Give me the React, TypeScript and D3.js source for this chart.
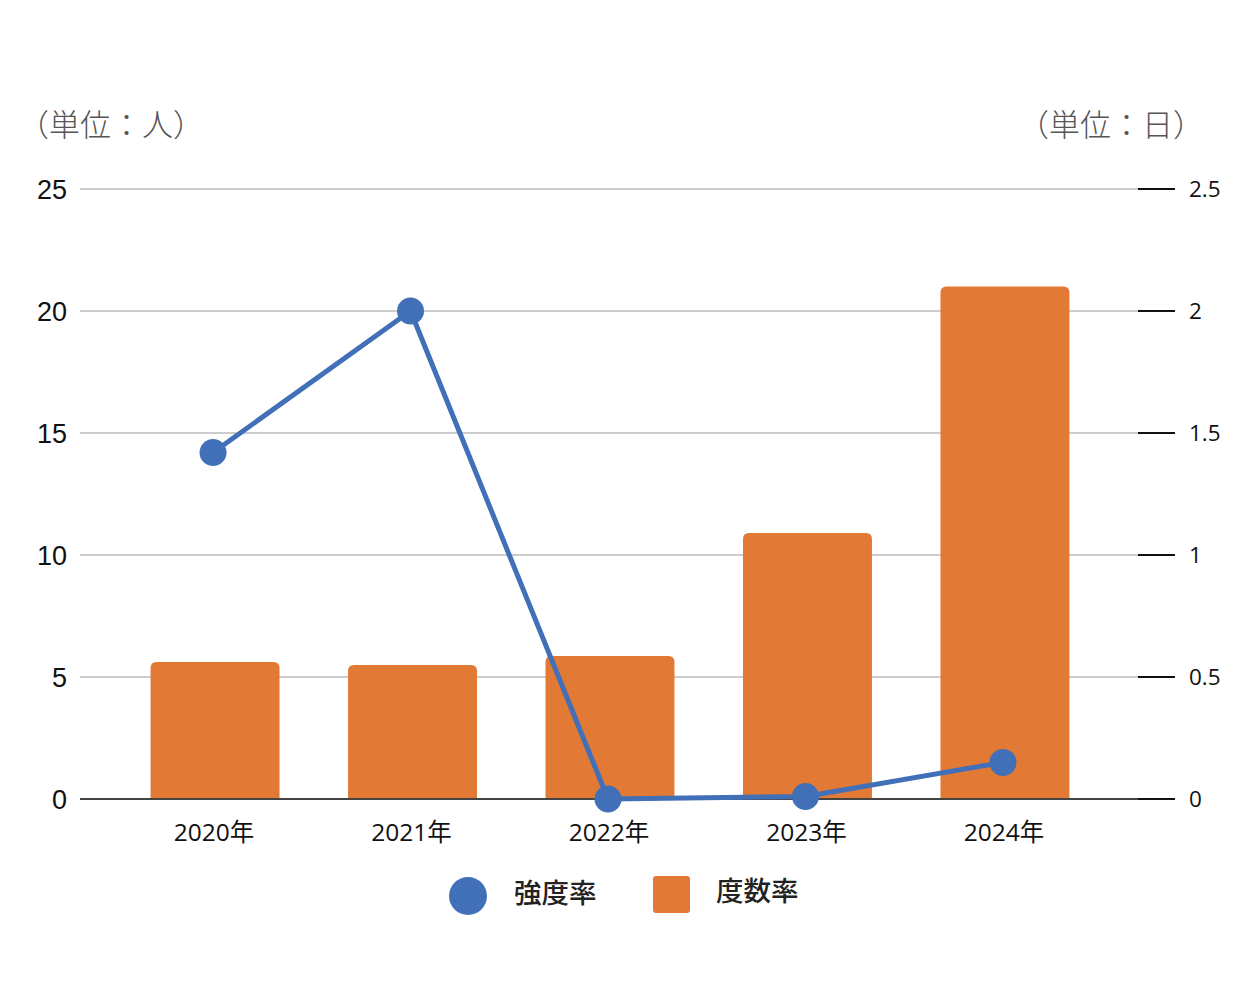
import React from "react";
import * as d3 from "d3";

const categories = ["2020年", "2021年", "2022年", "2023年", "2024年"];
const frequencyRate = [5.61, 5.49, 5.86, 10.9, 21.0]; // 度数率 (bars, left axis)
const severityRate = [1.42, 2.0, 0.0, 0.01, 0.15]; // 強度率 (line, right axis)
const leftTicks = [0, 5, 10, 15, 20, 25];
const rightTicks = [0, 0.5, 1, 1.5, 2, 2.5];
const leftUnit = "（単位：人）";
const rightUnit = "（単位：日）";
const legendLine = "強度率";
const legendBar = "度数率";

const W = 1259;
const H = 997;
const plotLeft = 80;
const gridRight = 1138;
const tickRight = 1175;
const yTop = 189;
const yBottom = 799;

const BLUE = "#4270b8";
const ORANGE = "#e27935";

export default function App() {
  const x = d3
    .scaleBand<string>()
    .domain(categories)
    .range([117, 1103])
    .paddingInner(0.347)
    .paddingOuter(0.17);
  const yL = d3.scaleLinear().domain([0, 25]).range([yBottom, yTop]);
  const yR = d3.scaleLinear().domain([0, 2.5]).range([yBottom, yTop]);
  const bw = x.bandwidth();
  const cx = (c: string) => (x(c) as number) + bw / 2;

  const line = d3
    .line<number>()
    .x((_, i) => cx(categories[i]) - 2)
    .y((d) => yR(d));

  const barPath = (x0: number, y0: number, w: number, h: number, r: number) => {
    const rr = Math.min(r, h);
    return `M${x0},${y0 + h}V${y0 + rr}Q${x0},${y0} ${x0 + rr},${y0}H${x0 + w - rr}Q${x0 + w},${y0} ${x0 + w},${y0 + rr}V${y0 + h}Z`;
  };

  return (
    <svg width={W} height={H} style={{ display: "block", position: "absolute", left: 0, top: 0 }}>
      <rect width={W} height={H} fill="#fff" />
      {/* unit labels */}
      <text x={18} y={136} fontSize={31} fontWeight={300} fill="#555" fontFamily="'Noto Sans CJK JP', sans-serif">
        {leftUnit}
      </text>
      <text x={1018} y={136} fontSize={31} fontWeight={300} fill="#555" fontFamily="'Noto Sans CJK JP', sans-serif">
        {rightUnit}
      </text>

      {/* gridlines */}
      {leftTicks.map((t) =>
        t === 0 ? null : (
          <line key={"g" + t} x1={plotLeft} x2={gridRight} y1={yL(t)} y2={yL(t)} stroke="#cccccc" strokeWidth={2} />
        )
      )}
      {/* right ticks */}
      {rightTicks.map((t) => (
        <line key={"rt" + t} x1={gridRight} x2={tickRight} y1={yR(t)} y2={yR(t)} stroke="#111" strokeWidth={2} />
      ))}
      {/* left labels */}
      {leftTicks.map((t) => (
        <text
          key={"ll" + t}
          x={67}
          y={yL(t)}
          dy="0.36em"
          textAnchor="end"
          fontSize={27}
          fill="#111"
          fontFamily="'Liberation Sans', Arial, sans-serif"
        >
          {t}
        </text>
      ))}
      {/* right labels */}
      {rightTicks.map((t) => (
        <text
          key={"rl" + t}
          x={1189}
          y={yR(t)}
          dy="0.36em"
          fontSize={22.5}
          fill="#111"
          fontFamily="'Open Sans', 'Noto Sans', sans-serif"
        >
          {t}
        </text>
      ))}

      {/* bars */}
      {frequencyRate.map((v, i) => {
        const c = categories[i];
        const y0 = yL(v);
        return <path key={"b" + c} d={barPath(x(c) as number, y0, bw, yBottom - y0, 6)} fill={ORANGE} />;
      })}

      {/* baseline */}
      <line x1={plotLeft} x2={gridRight} y1={yBottom} y2={yBottom} stroke="#444" strokeWidth={2} />

      {/* line */}
      <path d={line(severityRate) || ""} fill="none" stroke={BLUE} strokeWidth={5} strokeLinejoin="round" />
      {severityRate.map((v, i) => (
        <circle key={"p" + i} cx={cx(categories[i]) - 2} cy={yR(v)} r={13.5} fill={BLUE} />
      ))}

      {/* x labels */}
      {categories.map((c) => (
        <text
          key={"xl" + c}
          x={cx(c) - 1}
          y={841}
          textAnchor="middle"
          fontSize={24.5}
          fill="#111"
          fontFamily="'Open Sans', 'Noto Sans CJK JP', sans-serif"
        >
          {c}
        </text>
      ))}

      {/* legend */}
      <circle cx={468} cy={896} r={19} fill={BLUE} />
      <text x={514} y={903} fontSize={27.5} fontWeight={500} fill="#222" fontFamily="'Noto Sans CJK JP', sans-serif">
        {legendLine}
      </text>
      <rect x={653} y={876} width={37} height={37} rx={3} fill={ORANGE} />
      <text x={716} y={901} fontSize={27.5} fontWeight={500} fill="#222" fontFamily="'Noto Sans CJK JP', sans-serif">
        {legendBar}
      </text>
    </svg>
  );
}
